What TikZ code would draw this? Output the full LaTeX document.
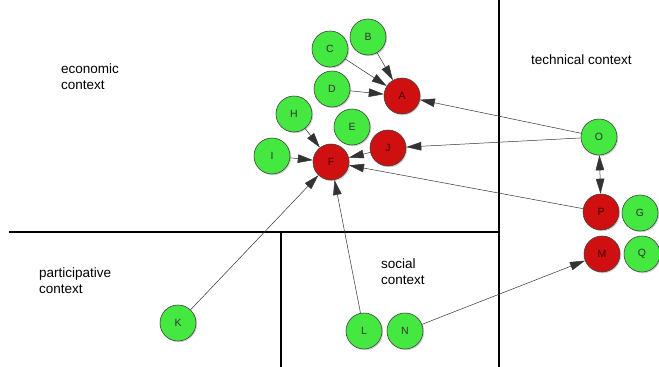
\documentclass[tikz,border=0pt]{standalone}
\usepackage{fontspec}
\setmainfont{Liberation Sans}
\usetikzlibrary{arrows.meta,shadows}
\definecolor{ngreen}{RGB}{68,232,64}
\definecolor{nred}{RGB}{208,16,16}
\tikzset{
  base/.style={circle,draw=black!75,line width=0.6pt,minimum size=36pt,inner sep=0pt,font=\fontsize{10.5}{12}\selectfont,
    drop shadow={shadow xshift=1.2pt,shadow yshift=-1.2pt,opacity=0.35}},
  gnode/.style={base,fill=ngreen,text=black!80},
  rnode/.style={base,fill=nred,text=black!75!red},
  tip/.tip={Triangle[length=15pt,width=8.5pt]},
  edge/.style={draw=black!80,line width=0.5pt,-tip},
  border/.style={line width=1.8pt,black},
  ctx/.style={font=\fontsize{13.5}{16}\selectfont,align=left,anchor=west,inner sep=0pt}
}
\begin{document}
\begin{tikzpicture}[x=1pt,y=-1pt]
\useasboundingbox (0,0) rectangle (659,367);
% borders
\coordinate (h1) at (9,232);
\coordinate (h2) at (499,232);
\coordinate (v1) at (499,0);
\coordinate (v2) at (499,367);
\coordinate (s1) at (281,232);
\coordinate (s2) at (281,367);
\draw[border] (h1) -- (h2);
\draw[border] (v1) -- (v2);
\draw[border] (s1) -- (s2);
% context labels
\node[ctx] (econ) at (61,77) {economic\\context};
\node[ctx] (part) at (39,281) {participative\\context};
\node[ctx] (soc) at (381,272) {social\\context};
\node[ctx] (tech) at (531,60) {technical context};
% nodes
\node[gnode] (B) at (368,37) {B};
\node[gnode] (C) at (330,49) {C};
\node[gnode] (D) at (332,89) {D};
\node[rnode] (A) at (402,96) {A};
\node[gnode] (H) at (294,114) {H};
\node[gnode] (E) at (352,127) {E};
\node[rnode] (J) at (388,148) {J};
\node[gnode] (I) at (272,156) {I};
\node[rnode] (F) at (331,162) {F};
\node[gnode] (O) at (599,137) {O};
\node[rnode] (P) at (601,212) {P};
\node[gnode] (G) at (640,213) {G};
\node[rnode] (M) at (602,254) {M};
\node[gnode] (Q) at (642,254) {Q};
\node[gnode] (K) at (178,323) {K};
\node[gnode] (L) at (364,331) {L};
\node[gnode] (N) at (405,331) {N};
% edges
\draw[edge] (B) -- (A);
\draw[edge] (C) -- (A);
\draw[edge] (D) -- (A);
\draw[edge] (O) -- (A);
\draw[edge] (O) -- (J);
\draw[edge] (H) -- (F);
\draw[edge] (I) -- (F);
\draw[edge] (J) -- (F);
\draw[edge] (P) -- (F);
\draw[edge] (K) -- (F);
\draw[edge] (L) -- (F);
\draw[edge] (N) -- (M);
\draw[edge,tip-tip] (O) -- (P);
\end{tikzpicture}
\end{document}
